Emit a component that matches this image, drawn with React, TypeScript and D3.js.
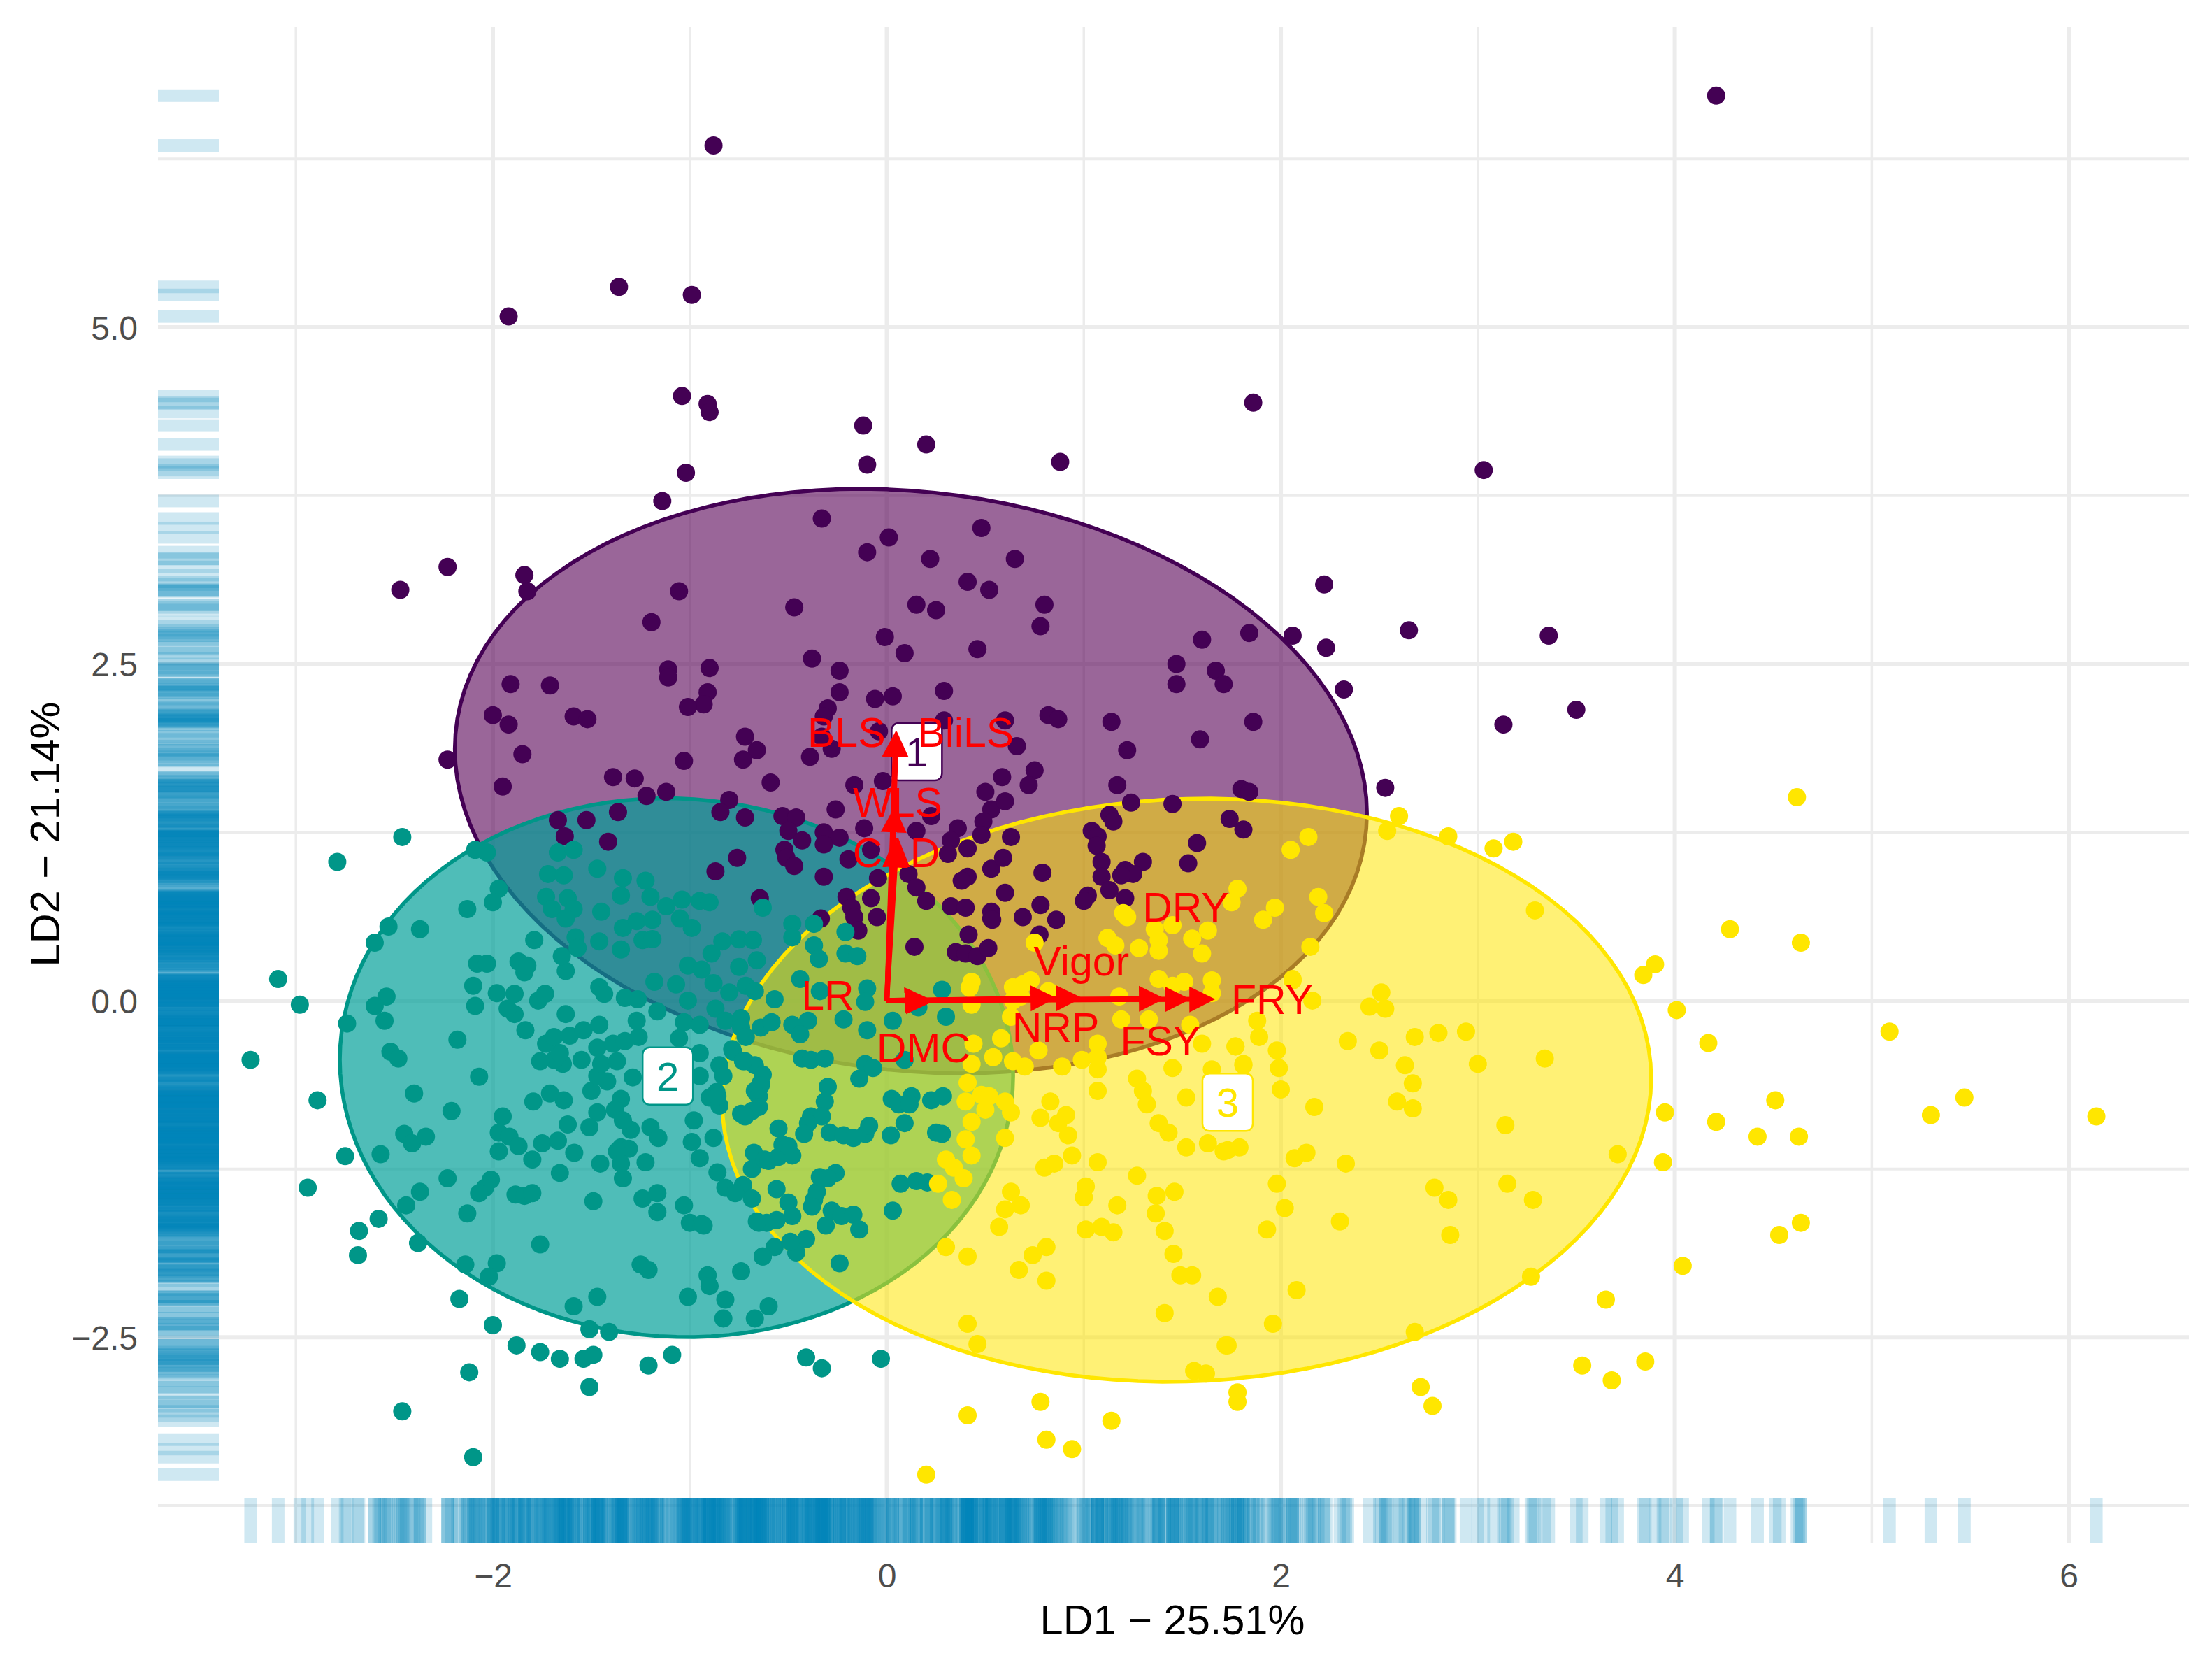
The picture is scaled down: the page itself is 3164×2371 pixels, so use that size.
import React, { useRef, useEffect } from "react";
import * as d3 from "d3";

type Pt = [number, number];

// LD1, LD2 scores, one list per cluster
const cluster1: Pt[] = [
  [4.21,6.72],[-0.88,6.35],[-1.92,5.08],[-1.36,5.30],[-0.99,5.24],[-1.04,4.49],[-0.91,4.43],[-0.90,4.37],[-0.12,4.27],[1.86,4.44],
  [0.20,4.13],[-0.10,3.98],[0.88,4.00],[-1.02,3.92],[3.03,3.94],[-1.14,3.71],[-2.47,3.05],[-2.23,3.22],[-1.84,3.16],[-1.825,3.04],
  [-0.33,3.58],[0.01,3.44],[-0.10,3.33],[0.48,3.51],[0.22,3.28],[0.41,3.11],[0.52,3.05],[-1.055,3.04],[-0.47,2.92],[0.15,2.94],
  [0.25,2.90],[-1.195,2.81],[-0.01,2.70],[0.09,2.58],[0.46,2.61],[-0.38,2.54],[-0.24,2.45],[-0.24,2.29],[-0.06,2.24],[0.03,2.26],
  [0.29,2.30],[-1.11,2.46],[-1.11,2.40],[-0.90,2.47],[-1.91,2.35],[-1.71,2.34],[-0.91,2.29],[-0.93,2.20],[-1.01,2.18],[-0.30,2.17],
  [-0.32,2.11],[-2.00,2.12],[-1.92,2.05],[-1.59,2.11],[-1.52,2.09],[-1.85,1.83],[-2.23,1.79],[-0.72,1.96],[-0.66,1.86],[-0.73,1.79],
  [-1.03,1.78],[-0.39,1.81],[-0.28,1.87],[-0.33,1.96],[-0.04,2.00],[0.29,2.08],[-0.59,1.62],[-1.95,1.59],[-1.39,1.66],[-1.28,1.65],
  [-1.22,1.52],[-1.12,1.55],[-0.165,1.60],[-0.02,1.63],[0.50,1.55],[0.53,1.42],[-0.26,1.42],[-0.80,1.49],[-0.845,1.40],[-0.72,1.36],
  [-1.365,1.40],[-1.525,1.34],[-1.67,1.34],[-1.635,1.22],[-1.415,1.18],[-0.53,1.37],[-0.46,1.36],[-0.50,1.26],[-0.43,1.19],[-0.32,1.25],
  [-0.24,1.21],[-0.32,1.16],[-0.52,1.12],[-0.51,1.06],[-0.47,1.00],[-0.115,1.28],[-0.08,1.12],[-0.195,1.05],[-0.32,0.92],[-0.045,0.91],
  [-0.76,1.06],[-0.87,0.96],[0.15,1.26],[0.225,1.37],[0.36,1.28],[0.325,1.19],[0.31,1.09],[0.41,1.13],[0.49,1.33],[0.48,1.23],
  [0.53,0.98],[0.41,0.92],[0.38,0.89],[0.11,0.94],[0.15,0.84],[0.20,0.74],[-0.205,0.77],[-0.18,0.69],[-0.165,0.62],[-0.145,0.52],
  [-0.08,0.76],[-0.05,0.62],[0.325,0.70],[0.40,0.69],[-0.645,0.76],[-0.335,0.61],[0.14,0.40],[0.35,0.36],[0.415,0.49],[0.40,0.35],
  [0.46,0.33],[0.515,0.39],[0.53,0.61],[0.65,3.28],[0.80,2.94],[0.78,2.78],[2.22,3.09],[2.06,2.71],[1.84,2.73],[1.60,2.68],
  [2.65,2.75],[2.23,2.62],[1.47,2.50],[1.47,2.35],[1.67,2.45],[1.71,2.35],[2.32,2.31],[3.13,2.05],[1.86,2.07],[0.82,2.12],
  [0.87,2.09],[0.60,2.08],[1.14,2.07],[1.22,1.86],[1.59,1.94],[0.66,1.89],[0.75,1.71],[0.585,1.66],[0.72,1.60],[1.17,1.60],
  [0.60,1.48],[1.24,1.47],[1.45,1.46],[1.80,1.57],[1.84,1.55],[2.53,1.58],[1.13,1.38],[1.15,1.33],[0.63,1.215],[1.74,1.35],
  [1.81,1.27],[1.04,1.26],[1.07,1.22],[1.065,1.15],[1.575,1.17],[0.59,1.06],[1.09,1.03],[1.30,1.03],[1.21,0.97],[1.25,0.94],
  [1.19,0.93],[1.53,1.02],[0.79,0.95],[1.09,0.92],[1.13,0.82],[0.60,0.80],[1.02,0.78],[1.00,0.74],[1.21,0.76],[0.53,0.66],
  [0.535,0.60],[0.69,0.62],[0.78,0.71],[0.86,0.60],[0.775,0.49],[3.36,2.71],[3.50,2.16],
];

const cluster2: Pt[] = [
  [-2.46,1.215],[-2.79,1.03],[-3.09,0.16],[-2.98,-0.03],[-3.23,-0.44],[-2.89,-0.74],[-2.75,-1.155],[-2.94,-1.39],[-2.58,-1.62],[-2.68,-1.71],
  [-2.685,-1.89],[-2.38,-1.80],[-2.17,-2.215],[-2.00,-2.41],[-2.09,1.12],[-2.03,1.10],[-1.97,0.83],[-2.00,0.73],[-2.13,0.68],[-2.53,0.55],
  [-2.60,0.43],[-2.37,0.53],[-2.54,0.03],[-2.60,-0.04],[-2.55,-0.15],[-2.74,-0.17],[-2.52,-0.38],[-2.48,-0.43],[-2.18,-0.29],[-2.07,-0.565],
  [-2.40,-0.69],[-2.21,-0.82],[-2.45,-0.99],[-2.41,-1.06],[-2.34,-1.01],[-2.57,-1.14],[-2.37,-1.42],[-2.44,-1.52],[-2.23,-1.32],[-2.01,-1.33],
  [-2.04,-1.39],[-2.07,-1.43],[-2.13,-1.58],[-1.885,-1.44],[-1.84,-1.45],[-1.80,-1.43],[-2.14,-1.96],[-1.98,-1.95],[-2.02,-2.05],[-1.76,-1.81],
  [-1.59,-2.27],[-1.47,-2.20],[-1.49,-1.49],[-1.25,-1.96],[-1.24,-1.47],[-1.165,-1.43],[-1.165,-1.57],[-1.03,-1.52],[-1.00,-1.65],[-0.94,-1.66],
  [-1.01,-2.20],[-0.91,-2.04],[-0.90,-2.12],[-0.82,-2.22],[-0.74,-2.01],[-0.83,-2.36],[-0.67,-2.36],[-0.63,-1.90],[-0.86,-1.275],[-0.82,-1.39],
  [-0.73,-1.37],[-0.685,-1.47],[-0.65,-1.65],[-0.95,-1.17],[-0.99,-1.05],[-0.98,-0.89],[-0.88,-1.02],[-0.675,-1.13],[-0.685,-1.25],[-0.62,-1.18],
  [-1.20,-0.94],[-1.16,-1.02],[-1.225,-1.20],[-1.30,-0.96],[-1.35,-0.73],[-1.38,-0.81],[-1.34,-0.89],[-1.47,-0.83],[-1.51,-0.94],[-1.62,-0.92],
  [-1.64,-0.74],[-1.71,-0.69],[-1.795,-0.75],[-1.95,-0.86],[-1.97,-0.98],[-1.916,-1.01],[-1.87,-1.08],[-1.97,-1.12],[-1.75,-1.06],[-1.67,-1.04],
  [-1.587,-1.13],[-1.80,-1.18],[-1.66,-1.28],[-1.455,-1.21],[-1.35,-1.09],[-1.31,-1.10],[-1.37,-1.12],[-1.35,-1.21],[-1.34,-1.32],[-1.50,-0.67],
  [-1.42,-0.60],[-1.47,-0.56],[-1.45,-0.47],[-1.37,-0.45],[-1.29,-0.57],[-1.47,-0.35],[-1.39,-0.32],[-1.33,-0.30],[-1.26,-0.27],[-1.27,-0.15],
  [-1.55,-0.44],[-1.645,-0.47],[-1.69,-0.44],[-1.76,-0.45],[-1.66,-0.39],[-1.73,-0.32],[-1.69,-0.27],[-1.61,-0.26],[-1.54,-0.22],[-1.46,-0.18],
  [-1.835,-0.22],[-1.89,-0.10],[-1.925,-0.06],[-1.98,0.055],[-1.89,0.05],[-2.09,-0.04],[-2.10,0.11],[-1.77,0.00],[-1.735,0.05],[-1.63,-0.10],
  [-1.63,0.22],[-1.65,0.33],[-1.84,0.21],[-1.87,0.29],[-1.825,0.26],[-2.08,0.275],[-2.03,0.275],[-1.79,0.45],[-1.46,0.10],[-1.435,0.05],
  [-1.33,0.02],[-1.265,0.01],[-1.165,-0.08],[-1.03,-0.16],[-0.95,-0.18],[-1.055,-0.28],[-0.95,-0.39],[-0.95,-0.56],[-0.785,-0.36],[-0.72,-0.45],
  [-0.67,-0.48],[-0.85,-0.48],[-0.83,-0.56],[-0.865,-0.68],[-0.90,-0.72],[-0.85,-0.78],[-0.74,-0.84],[-0.685,-0.82],[-0.67,-0.67],[-0.64,-0.61],
  [-1.67,1.10],[-1.59,1.12],[-1.72,0.94],[-1.64,0.93],[-1.47,0.98],[-1.73,0.77],[-1.62,0.76],[-1.70,0.68],[-1.59,0.68],[-1.63,0.61],
  [-1.45,0.66],[-1.34,0.91],[-1.35,0.78],[-1.225,0.89],[-1.20,0.77],[-1.34,0.54],[-1.27,0.59],[-1.19,0.60],[-1.12,0.70],[-1.04,0.75],
  [-0.95,0.74],[-0.90,0.73],[-1.05,0.61],[-0.99,0.54],[-1.58,0.47],[-1.57,0.39],[-1.46,0.44],[-1.35,0.38],[-1.24,0.45],[-1.19,0.456],
  [-1.18,0.14],[-1.07,0.12],[-1.01,0.00],[-1.01,0.26],[-0.94,0.23],[-0.89,0.35],[-0.835,0.44],[-0.75,0.455],[-0.68,0.45],[-0.66,0.30],
  [-0.75,0.25],[-0.88,0.13],[-0.80,0.06],[-0.716,0.11],[-0.67,0.07],[-0.87,-0.06],[-0.82,-0.15],[-0.74,-0.13],[-0.74,-0.20],[-0.716,-0.27],
  [-0.63,0.69],[-0.48,0.57],[-0.37,0.57],[-0.48,0.47],[-0.64,-0.20],[-0.585,-0.16],[-0.57,0.01],[-0.37,0.41],[-0.345,0.31],[-0.44,0.16],
  [-0.34,0.07],[-0.21,0.51],[-0.21,0.35],[-0.15,0.33],[-0.10,0.09],[-0.11,-0.01],[-0.22,-0.14],[-0.40,-0.15],[-0.48,-0.18],[-0.44,-0.25],
  [-0.10,-0.22],[-0.43,-0.43],[-0.385,-0.44],[-0.315,-0.43],[-0.11,-0.47],[-0.14,-0.58],[-0.30,-0.64],[-0.315,-0.75],[-0.385,-0.86],[0.03,-0.15],
  [0.30,-0.12],[0.16,-0.05],[0.28,0.08],[0.09,-0.44],[-0.07,-0.50],[-0.33,-0.86],[-0.40,-0.91],[-0.42,-0.99],[-0.29,-0.98],[-0.22,-1.00],
  [-0.17,-1.02],[-0.11,-0.99],[-0.09,-0.93],[0.025,-0.73],[0.06,-0.77],[0.125,-0.71],[0.115,-0.77],[0.225,-0.74],[0.285,-0.71],[0.09,-0.91],
  [0.02,-1.00],[0.25,-0.98],[0.28,-0.99],[0.07,-1.36],[0.15,-1.34],[0.205,-1.35],[0.03,-1.56],[-0.55,-0.95],[-0.53,-1.07],[-0.60,-1.19],
  [-0.55,-1.16],[-0.48,-1.15],[-0.50,-1.08],[-0.77,-1.43],[-0.56,-1.40],[-0.50,-1.50],[-0.48,-1.60],[-0.56,-1.63],[-0.61,-1.65],[-0.66,-1.64],
  [-0.37,-1.48],[-0.355,-1.42],[-0.34,-1.31],[-0.26,-1.28],[-0.30,-1.32],[-0.38,-1.53],[-0.28,-1.56],[-0.31,-1.67],[-0.23,-1.60],[-0.17,-1.59],
  [-0.14,-1.70],[-0.41,-1.77],[-0.46,-1.87],[-0.57,-1.83],[-0.63,-1.90],[-0.24,-1.95],[-0.60,-2.27],[-0.78,-0.38],[-0.73,-0.45],[-0.63,-0.55],
  [-0.64,-0.63],[-0.65,-0.71],[-0.65,-0.79],[-0.72,-0.86],[-0.86,-0.71],[-0.93,-1.67],[-2.46,-3.05],[-2.10,-3.39],[-2.12,-2.76],[-1.88,-2.56],
  [-1.76,-2.61],[-1.66,-2.66],[-1.54,-2.66],[-1.49,-2.63],[-1.51,-2.87],[-1.51,-2.44],[-1.41,-2.46],[-1.21,-2.71],[-1.09,-2.63],[-0.41,-2.65],
  [-0.33,-2.73],[-0.03,-2.66],[-1.21,-2.00],[-0.49,-1.79],
];

const cluster3: Pt[] = [
  [3.29,0.67],[4.28,0.53],[3.90,0.27],[3.84,0.19],[4.01,-0.07],[4.17,-0.315],[4.51,-0.74],[4.21,-0.90],[4.42,-1.01],[3.95,-0.83],
  [3.94,-1.20],[3.71,-1.14],[3.14,-0.925],[3.34,-0.43],[3.00,-0.47],[2.94,-0.23],[2.80,-0.24],[2.68,-0.27],[2.63,-0.48],[2.67,-0.615],
  [2.59,-0.75],[2.67,-0.80],[2.50,-0.37],[2.34,-0.30],[2.51,0.06],[2.45,-0.045],[2.53,-0.06],[2.16,0.00],[2.06,0.15],[1.88,-0.15],
  [1.89,-0.27],[1.77,-0.34],[1.98,-0.37],[1.99,-0.50],[1.81,-0.48],[2.00,-0.66],[2.17,-0.79],[2.33,-1.21],[2.13,-1.13],[2.07,-1.17],
  [1.79,-1.09],[1.73,-1.11],[1.98,-1.36],[2.02,-1.54],[1.93,-1.70],[2.30,-1.64],[2.78,-1.39],[2.85,-1.48],[3.15,-1.36],[3.28,-1.48],
  [2.86,-1.74],[2.08,-2.15],[1.96,-2.40],[1.73,-2.56],[3.27,-2.05],[4.04,-1.97],[3.65,-2.22],[2.68,-2.46],[3.53,-2.71],[3.68,-2.82],
  [3.85,-2.68],[2.71,-2.87],[2.77,-3.01],[1.78,-2.91],[1.78,-2.98],[2.15,0.40],[1.97,0.69],[1.91,0.60],[2.19,0.77],[2.22,0.65],
  [1.78,0.83],[1.75,0.73],[2.60,1.37],[2.54,1.26],[2.85,1.22],[3.08,1.13],[3.18,1.18],[2.14,1.215],[2.05,1.12],[1.20,0.65],
  [1.22,0.62],[1.12,0.465],[1.16,0.41],[1.28,0.39],[1.36,0.53],[1.38,0.45],[1.38,0.37],[1.63,0.52],[1.55,0.46],[1.60,0.35],
  [1.45,0.56],[0.75,0.43],[0.65,0.08],[0.73,0.15],[0.69,0.12],[0.84,0.055],[1.18,0.03],[1.38,0.16],[1.51,0.14],[1.45,0.11],
  [1.65,0.15],[1.65,0.055],[2.06,0.16],[0.64,0.10],[0.82,0.07],[0.68,0.03],[0.64,0.00],[0.43,0.14],[0.43,-0.03],[0.42,0.095],
  [0.66,0.08],[0.63,-0.12],[0.44,-0.32],[0.58,-0.28],[0.54,-0.42],[0.43,-0.47],[0.64,-0.45],[0.70,-0.49],[0.77,-0.37],[0.89,-0.49],
  [0.99,-0.44],[1.07,-0.32],[1.07,-0.42],[1.07,-0.51],[1.19,-0.14],[1.33,-0.14],[1.54,-0.18],[1.60,-0.32],[1.77,-0.34],[1.81,-0.47],
  [1.65,-0.51],[1.45,-0.50],[1.27,-0.58],[1.30,-0.67],[1.32,-0.77],[1.07,-0.67],[1.52,-0.72],[0.41,-0.61],[0.40,-0.75],[0.48,-0.70],
  [0.52,-0.71],[0.50,-0.81],[0.60,-0.75],[0.63,-0.83],[0.83,-0.75],[0.78,-0.87],[0.91,-0.85],[0.87,-0.91],[0.92,-1.00],[0.43,-0.90],
  [0.40,-1.03],[0.60,-1.02],[0.43,-1.15],[0.30,-1.18],[0.34,-1.24],[0.39,-1.32],[0.26,-1.36],[0.33,-1.48],[0.80,-1.24],[0.85,-1.21],
  [0.94,-1.15],[1.07,-1.20],[1.27,-1.30],[1.38,-0.91],[1.43,-0.98],[1.52,-1.09],[1.63,-1.06],[1.71,-1.12],[1.01,-1.38],[1.00,-1.46],
  [0.63,-1.42],[0.68,-1.52],[0.60,-1.55],[0.57,-1.68],[1.17,-1.52],[1.37,-1.45],[1.46,-1.42],[1.365,-1.58],[1.41,-1.71],[1.01,-1.70],
  [1.09,-1.68],[1.15,-1.72],[1.455,-1.88],[1.49,-2.04],[1.55,-2.04],[0.81,-1.83],[0.74,-1.89],[0.67,-2.00],[0.81,-2.08],[0.30,-1.83],
  [0.41,-1.90],[1.68,-2.20],[1.41,-2.32],[0.41,-2.40],[0.46,-2.55],[1.72,-2.56],[1.56,-2.75],[1.62,-2.77],[0.78,-2.98],[0.41,-3.08],
  [1.14,-3.12],[0.81,-3.26],[0.94,-3.33],[0.20,-3.52],[4.62,1.51],[4.64,0.43],[5.09,-0.23],[5.47,-0.72],[5.30,-0.85],[6.14,-0.86],
  [4.63,-1.01],[4.64,-1.65],[4.53,-1.74],
];

const clusterNames = ["1", "2", "3"];
const clusterColors = ["#440154", "#009688", "#ffe600"];
const clusterFills = ["#570055", "#009f98", "#ffe600"];
const clusterAlpha = [0.6, 0.69, 0.54];

// ellipse summary per cluster: centre, half widths, correlation
const ellipseCx = [0.122, -1.068, 1.522];
const ellipseCy = [1.63, -0.498, -0.665];
const ellipseRx = [2.315, 1.709, 2.358];
const ellipseRy = [2.17, 2.0, 2.165];
const ellipseR = [-0.11, -0.03, 0.04];

// cluster centre boxes
const centreX = [0.152, -1.112, 1.73];
const centreY = [1.848, -0.56, -0.755];

// loading arrows
const loadingNames = ["BLS", "BliLS", "WLS", "CAD", "LR", "DMC", "NRP", "Vigor", "DRY", "FSY", "FRY"];
const loadingX = [0.045, 0.05, 0.04, 0.05, 0.22, 0.23, 0.86, 0.99, 1.41, 1.54, 1.666];
const loadingY = [2.0, 2.0, 1.44, 1.18, 0.01, -0.01, 0.02, 0.02, 0.015, 0.01, 0.01];
const labelX = [-0.205, 0.40, 0.055, 0.048, -0.30, 0.186, 0.857, 0.988, 1.517, 1.389, 1.955];
const labelY = [1.883, 1.883, 1.365, 0.992, -0.067, -0.457, -0.306, 0.187, 0.586, -0.405, -0.099];

const xMajor = [-2, 0, 2, 4, 6];
const xMinor = [-3, -1, 1, 3, 5];
const yMajor = [-2.5, 0, 2.5, 5];
const yMinor = [-3.75, -1.25, 1.25, 3.75, 6.25];

const FONT = "'Liberation Sans', Arial, sans-serif";
const WIDTH = 3164;
const HEIGHT = 2371;

const App = () => {
  const svgRef = useRef<SVGSVGElement>(null);

  useEffect(() => {
    const svg = d3.select(svgRef.current);
    svg.selectAll("*").remove();

    //scales
    const left = 226, right = 3131, top = 38, bottom = 2207;
    const xScale = d3.scaleLinear().domain([-3.7, 6.61]).range([left, right]);
    const yScale = d3.scaleLinear().domain([-4.03, 7.233]).range([bottom, top]);

    //grid
    const grid = svg.append("g").attr("stroke", "#ececec");
    grid.selectAll(".vminor").data(xMinor).join("line").attr("x1", (d) => xScale(d)).attr("x2", (d) => xScale(d))
      .attr("y1", top).attr("y2", bottom).attr("stroke-width", 3.5);
    grid.selectAll(".hminor").data(yMinor).join("line").attr("y1", (d) => yScale(d)).attr("y2", (d) => yScale(d))
      .attr("x1", left).attr("x2", right).attr("stroke-width", 4);
    grid.selectAll(".vmajor").data(xMajor).join("line").attr("x1", (d) => xScale(d)).attr("x2", (d) => xScale(d))
      .attr("y1", top).attr("y2", bottom).attr("stroke-width", 6);
    grid.selectAll(".hmajor").data(yMajor).join("line").attr("y1", (d) => yScale(d)).attr("y2", (d) => yScale(d))
      .attr("x1", left).attr("x2", right).attr("stroke-width", 6);

    //axes
    const xAxis = d3.axisBottom(xScale).tickValues(xMajor).tickSize(0).tickPadding(29).tickFormat(d3.format("d") as any);
    const yAxis = d3.axisLeft(yScale).tickValues(yMajor).tickSize(0).tickPadding(29).tickFormat(d3.format(".1f") as any);
    [svg.append("g").attr("transform", `translate(0,${bottom})`).call(xAxis as any),
     svg.append("g").attr("transform", `translate(${left},2)`).call(yAxis as any)].forEach((g) => {
      g.select(".domain").remove();
      g.selectAll("text").attr("font-family", FONT).attr("font-size", 48).attr("fill", "#4d4d4d");
    });

    //ellipses
    const angles = d3.range(0, 2 * Math.PI, Math.PI / 60);
    clusterNames.forEach((_, i) => {
      const r = ellipseR[i];
      const outline = d3
        .line<number>()
        .x((t) => xScale(ellipseCx[i] + ellipseRx[i] * Math.cos(t)))
        .y((t) => yScale(ellipseCy[i] + ellipseRy[i] * (r * Math.cos(t) + Math.sqrt(1 - r * r) * Math.sin(t))))
        .curve(d3.curveLinearClosed);
      svg.append("path").attr("d", outline(angles)).attr("fill", clusterFills[i]).attr("fill-opacity", clusterAlpha[i])
        .attr("stroke", clusterColors[i]).attr("stroke-width", 5.5);
    });

    //points
    [cluster1, cluster2, cluster3].forEach((pts, i) => {
      svg.append("g").selectAll("circle").data(pts).join("circle")
        .attr("cx", (d) => xScale(d[0])).attr("cy", (d) => yScale(d[1])).attr("r", 13).attr("fill", clusterColors[i]);
    });

    //rugs
    const all = [...cluster1, ...cluster2, ...cluster3];
    const rugBand = 18;
    const rugX = 87, rugY = 65;
    svg.append("g").selectAll("rect").data(all).join("rect")
      .attr("x", (d) => xScale(d[0]) - rugBand / 2).attr("y", bottom - rugY).attr("width", rugBand).attr("height", rugY)
      .attr("fill", "#0083b8").attr("fill-opacity", 0.19);
    svg.append("g").selectAll("rect").data(all).join("rect")
      .attr("x", left).attr("y", (d) => yScale(d[1]) - rugBand / 2).attr("width", rugX).attr("height", rugBand)
      .attr("fill", "#0083b8").attr("fill-opacity", 0.19);

    //cluster labels
    clusterNames.forEach((name, i) => {
      const g = svg.append("g").attr("transform", `translate(${xScale(centreX[i])},${yScale(centreY[i])})`);
      g.append("rect").attr("x", -36).attr("y", -41).attr("width", 72).attr("height", 82).attr("rx", 10)
        .attr("fill", "#fff").attr("stroke", clusterColors[i]).attr("stroke-width", 2.5);
      g.append("text").text(name).attr("text-anchor", "middle").attr("y", 21).attr("font-family", FONT)
        .attr("font-size", 58).attr("fill", clusterColors[i]);
    });

    //arrows
    const defs = svg.append("defs");
    defs.append("marker").attr("id", "head").attr("viewBox", "0 0 10 10").attr("refX", 5.6).attr("refY", 5)
      .attr("markerWidth", 37).attr("markerHeight", 42).attr("markerUnits", "userSpaceOnUse").attr("orient", "auto")
      .append("path").attr("d", "M0,0L10,5L0,10Z").attr("fill", "#ff0000");
    const x0 = xScale(0), y0 = yScale(0);
    loadingNames.forEach((name, i) => {
      const tx = xScale(loadingX[i]), ty = yScale(loadingY[i]);
      const len = Math.hypot(tx - x0, ty - y0);
      const k = (len - 16) / len;
      svg.append("line").attr("x1", x0).attr("y1", y0).attr("x2", x0 + (tx - x0) * k).attr("y2", y0 + (ty - y0) * k)
        .attr("stroke", "#ff0000").attr("stroke-width", 7).attr("marker-end", "url(#head)");
      svg.append("text").text(name).attr("x", xScale(labelX[i])).attr("y", yScale(labelY[i])).attr("text-anchor", "middle")
        .attr("font-family", FONT).attr("font-size", 59).attr("fill", "#ff0000");
    });

    //titles
    svg.append("text").text("LD1 \u2212 25.51%").attr("x", 1677).attr("y", 2337).attr("text-anchor", "middle")
      .attr("font-family", FONT).attr("font-size", 59.5).attr("fill", "#000");
    svg.append("text").text("LD2 \u2212 21.14%").attr("transform", "translate(85,1193) rotate(-90)").attr("text-anchor", "middle")
      .attr("font-family", FONT).attr("font-size", 59.5).attr("fill", "#000");
  }, []);

  return <svg ref={svgRef} width={WIDTH} height={HEIGHT} style={{ position: "absolute", left: 0, top: 0, background: "#fff" }} />;
};

export default App;
